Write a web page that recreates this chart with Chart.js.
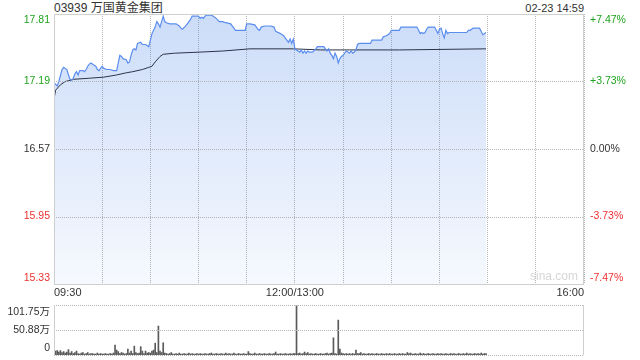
<!DOCTYPE html>
<html lang="zh">
  <head>
    <meta charset="utf-8" />
    <title>03939 万国黄金集团</title>
    <script src="https://cdn.jsdelivr.net/npm/chart.js@4/dist/chart.umd.min.js"></script>
    <style>
      body { margin: 0; background: #fff; width: 640px; height: 360px; position: relative; overflow: hidden; }
      canvas { position: absolute; left: 0; }
      #main { top: 0; }
      #vol { top: 300px; }
      .head { position: absolute; top: 1px; font: 12px Arial, "Liberation Sans", "Noto Sans CJK SC", sans-serif; color: #333; line-height: 15px; }
      #title { left: 54px; }
      #stamp { right: 56px; font-size: 11px; }
    </style>
  </head>
  <body>
    <div class="head" id="title">03939 万国黄金集团</div>
    <div class="head" id="stamp">02-23 14:59</div>
    <canvas id="main" width="640" height="300"></canvas>
    <canvas id="vol" width="640" height="60"></canvas>
    <script>
      // 分时价格 (分钟序号, 价格)
      const priceMinutes = [0, 2, 3, 5, 6, 8, 9, 10, 11, 12, 13, 14, 15, 16, 18, 19, 20, 21, 22, 23, 25, 26, 27, 28, 29, 30, 31, 33, 35, 37, 39, 40, 41, 42, 43, 45, 46, 47, 48, 49, 50, 51, 52, 54, 55, 57, 58, 59, 60, 61, 62, 63, 64, 65, 66, 67, 68, 69, 70, 72, 76, 78, 79, 80, 82, 83, 84, 85, 86, 90, 91, 92, 93, 94, 95, 98, 100, 101, 103, 105, 107, 110, 112, 113, 119, 120, 122, 125, 127, 128, 129, 131, 135, 137, 138, 141, 143, 145, 146, 147, 148, 149, 150, 151, 153, 154, 155, 156, 157, 158, 159, 161, 163, 164, 168, 169, 170, 171, 172, 173, 174, 175, 176, 177, 178, 179, 180, 181, 182, 183, 184, 185, 186, 187, 188, 189, 190, 197, 198, 204, 205, 207, 209, 210, 215, 216, 226, 227, 228, 229, 230, 231, 232, 233, 237, 238, 239, 240, 241, 242, 243, 244, 245, 246, 253, 255, 257, 258, 259, 260, 261, 265, 266, 267, 269];
      const prices = [17.18, 17.15, 17.19, 17.30, 17.32, 17.30, 17.25, 17.21, 17.20, 17.22, 17.26, 17.28, 17.25, 17.29, 17.29, 17.28, 17.30, 17.33, 17.35, 17.36, 17.34, 17.33, 17.30, 17.29, 17.31, 17.33, 17.31, 17.30, 17.30, 17.29, 17.29, 17.36, 17.43, 17.42, 17.40, 17.39, 17.36, 17.37, 17.43, 17.48, 17.49, 17.48, 17.54, 17.55, 17.53, 17.53, 17.52, 17.51, 17.57, 17.63, 17.66, 17.69, 17.74, 17.72, 17.69, 17.74, 17.79, 17.74, 17.73, 17.72, 17.72, 17.70, 17.68, 17.67, 17.70, 17.72, 17.74, 17.76, 17.79, 17.79, 17.77, 17.78, 17.77, 17.79, 17.80, 17.80, 17.78, 17.77, 17.74, 17.74, 17.73, 17.72, 17.68, 17.66, 17.66, 17.72, 17.72, 17.71, 17.67, 17.66, 17.69, 17.70, 17.70, 17.69, 17.65, 17.63, 17.61, 17.57, 17.55, 17.58, 17.54, 17.58, 17.49, 17.48, 17.46, 17.48, 17.45, 17.47, 17.45, 17.47, 17.46, 17.46, 17.49, 17.51, 17.51, 17.49, 17.47, 17.49, 17.45, 17.43, 17.40, 17.45, 17.42, 17.36, 17.40, 17.42, 17.43, 17.45, 17.47, 17.46, 17.45, 17.47, 17.45, 17.46, 17.48, 17.53, 17.54, 17.54, 17.57, 17.57, 17.60, 17.61, 17.63, 17.66, 17.66, 17.69, 17.69, 17.66, 17.63, 17.64, 17.63, 17.64, 17.67, 17.69, 17.69, 17.66, 17.63, 17.67, 17.68, 17.63, 17.59, 17.66, 17.63, 17.64, 17.64, 17.64, 17.64, 17.66, 17.66, 17.67, 17.68, 17.68, 17.65, 17.62, 17.64];

      // 均价线
      const avgMinutes = [0, 1, 4, 7, 10, 12, 22, 31, 39, 45, 49, 55, 59, 61, 63, 66, 68, 75, 91, 105, 122, 149, 166, 184, 215, 269];
      const avgPrices = [17.03, 17.11, 17.16, 17.19, 17.20, 17.21, 17.22, 17.23, 17.25, 17.27, 17.28, 17.30, 17.32, 17.33, 17.37, 17.42, 17.44, 17.45, 17.46, 17.47, 17.49, 17.49, 17.48, 17.48, 17.48, 17.49];

      // 每分钟成交量 (万股)
      const volumes = [
        12, 8, 9, 6, 9, 5, 7, 4, 6, 11, 4, 7, 3, 5, 8, 3, 2, 4, 5, 2, 3, 5, 2, 3, 3, 2, 2, 4, 2, 3,
        2, 2, 3, 2, 2, 3, 2, 4, 20, 10, 7, 3, 5, 4, 2, 3, 12, 4, 8, 3, 18, 5, 3, 4, 17, 8, 3, 8, 4, 5,
        4, 8, 10, 24, 5, 59, 8, 5, 25, 4, 3, 2, 3, 5, 2, 2, 3, 2, 4, 2, 2, 3, 2, 2, 4, 2, 3, 2, 2, 3,
        2, 3, 2, 2, 3, 2, 2, 3, 4, 2, 2, 3, 2, 2, 3, 2, 2, 4, 2, 3, 2, 2, 4, 2, 2, 3, 2, 2, 3, 2,
        2, 7, 3, 2, 2, 4, 2, 2, 3, 2, 2, 3, 2, 2, 3, 2, 2, 3, 6, 2, 2, 3, 2, 2, 3, 2, 2, 3, 2, 3,
        3, 101.75, 3, 4, 2, 3, 6, 3, 5, 2, 3, 2, 2, 3, 2, 2, 3, 2, 2, 3, 4, 2, 3, 4, 35, 3, 2, 71, 12, 4,
        3, 2, 3, 2, 3, 2, 3, 2, 10, 3, 3, 5, 2, 3, 2, 2, 3, 2, 3, 2, 2, 3, 2, 2, 3, 2, 2, 3, 2, 3,
        2, 2, 3, 2, 2, 3, 2, 3, 2, 2, 5, 3, 4, 2, 2, 3, 2, 2, 4, 2, 3, 2, 2, 3, 2, 2, 3, 2, 2, 3,
        2, 3, 2, 2, 3, 2, 2, 3, 2, 3, 2, 2, 3, 2, 2, 3, 2, 4, 2, 3, 2, 2, 3, 2, 3, 2, 4, 2, 3, 3
      ];

      // 坐标轴刻度
      const priceTicks = [17.81, 17.19, 16.57, 15.95, 15.33];
      const pctTicks = ["+7.47%", "+3.73%", "0.00%", "-3.73%", "-7.47%"];
      const tickColors = ["#1ea31e", "#1ea31e", "#333333", "#f03030", "#f03030"];
      const timeTicks = [0, 150, 330];
      const timeLabels = ["09:30", "12:00/13:00", "16:00"];
      const volTicks = [101.75, 50.875, 0];
      const volLabels = ["101.75万", "50.88万", "0"];

      const FONT = 'Arial, "Liberation Sans", "Noto Sans CJK SC", sans-serif';
      const GRID = "#b4b4b4";

      // 横向点线网格 (按 y 轴刻度)
      function hGrid(chart, values) {
        const ctx = chart.ctx;
        const a = chart.chartArea;
        const y = chart.scales.y;
        ctx.save();
        ctx.strokeStyle = GRID;
        ctx.lineWidth = 1;
        ctx.setLineDash([1, 1]);
        values.forEach((v) => {
          const py = Math.round(y.getPixelForValue(v)) + 0.5;
          ctx.beginPath();
          ctx.moveTo(a.left, py);
          ctx.lineTo(a.right, py);
          ctx.stroke();
        });
        ctx.restore();
      }

      const mainLabels = {
        id: "mainLabels",
        afterDatasetsDraw(chart) {
          hGrid(chart, priceTicks.slice(1, -1));
        },
        afterDraw(chart) {
          const ctx = chart.ctx;
          const a = chart.chartArea;
          const y = chart.scales.y;
          const x = chart.scales.x;
          ctx.save();
          // 外框
          ctx.strokeStyle = "#cfcfcf";
          ctx.lineWidth = 1;
          ctx.strokeRect(a.left + 0.5, a.top + 0.5, a.right - a.left - 1, a.bottom - a.top);
          ctx.font = "10.5px " + FONT;
          ctx.textBaseline = "middle";
          priceTicks.forEach((v, i) => {
            let py = y.getPixelForValue(v);
            py = Math.min(Math.max(py, a.top + 6), a.bottom - 6);
            ctx.fillStyle = tickColors[i];
            ctx.textAlign = "right";
            ctx.fillText(v.toFixed(2), a.left - 4, py);
            ctx.textAlign = "left";
            ctx.fillText(pctTicks[i], a.right + 6, py);
          });
          ctx.font = "11px " + FONT;
          ctx.fillStyle = "#333";
          const aligns = ["left", "center", "right"];
          timeTicks.forEach((m, i) => {
            ctx.textAlign = aligns[i];
            ctx.fillText(timeLabels[i], x.getPixelForValue(m), a.bottom + 9);
          });
          ctx.font = "12px " + FONT;
          ctx.fillStyle = "#d6d6d6";
          ctx.textAlign = "right";
          ctx.fillText("sina.com", a.right - 6, a.bottom - 7);
          ctx.restore();
        },
      };

      new Chart(document.getElementById("main"), {
        type: "line",
        data: {
          datasets: [
            {
              label: "价格",
              data: priceMinutes.map((m, i) => ({ x: m, y: prices[i] })),
              borderColor: "#5b8def",
              borderWidth: 1.2,
              pointRadius: 0,
              fill: "start",
              backgroundColor: (c) => {
                const a = c.chart.chartArea;
                if (!a) return "rgba(100,150,235,0.25)";
                const g = c.chart.ctx.createLinearGradient(0, a.top, 0, a.bottom);
                g.addColorStop(0, "rgba(100,150,235,0.33)");
                g.addColorStop(1, "rgba(100,150,235,0.06)");
                return g;
              },
            },
            {
              label: "均价",
              data: avgMinutes.map((m, i) => ({ x: m, y: avgPrices[i] })),
              borderColor: "#2c3347",
              borderWidth: 1,
              pointRadius: 0,
              fill: false,
            },
          ],
        },
        options: {
          responsive: false,
          animation: false,
          layout: { padding: { left: 54, right: 56, top: 14, bottom: 16 } },
          plugins: {
            legend: { display: false },
            tooltip: { enabled: false },
            filler: { drawTime: "beforeDatasetsDraw" },
          },
          scales: {
            x: {
              type: "linear",
              min: 0,
              max: 330,
              afterFit: (s) => { s.height = 0; },
              ticks: { display: false, stepSize: 30 },
              grid: { color: GRID, drawTicks: false },
              border: { display: false, dash: [1, 1] },
            },
            y: {
              min: 15.33,
              max: 17.81,
              afterFit: (s) => { s.width = 0; },
              ticks: { display: false, count: priceTicks.length },
              grid: { display: false },
              border: { display: false },
            },
          },
        },
        plugins: [mainLabels],
      });

      const volLabelsPlugin = {
        id: "volLabels",
        afterDatasetsDraw(chart) {
          hGrid(chart, volTicks);
        },
        afterDraw(chart) {
          const ctx = chart.ctx;
          const a = chart.chartArea;
          const y = chart.scales.y;
          ctx.save();
          ctx.strokeStyle = "#cfcfcf";
          ctx.beginPath();
          ctx.moveTo(a.right - 0.5, a.top);
          ctx.lineTo(a.right - 0.5, a.bottom);
          ctx.moveTo(a.left + 0.5, a.top);
          ctx.lineTo(a.left + 0.5, a.bottom);
          ctx.stroke();
          ctx.font = "10.5px " + FONT;
          ctx.fillStyle = "#333";
          ctx.textAlign = "right";
          ctx.textBaseline = "middle";
          volTicks.forEach((v, i) => {
            let py = y.getPixelForValue(v);
            py = Math.min(Math.max(py, a.top + 7), a.bottom - 7);
            ctx.fillText(volLabels[i], a.left - 4, py);
          });
          ctx.restore();
        },
      };

      new Chart(document.getElementById("vol"), {
        type: "bar",
        data: {
          datasets: [
            {
              label: "成交量",
              data: volumes.map((v, i) => ({ x: i, y: v })),
              backgroundColor: "#5a5a5a",
              barThickness: 1,
            },
          ],
        },
        options: {
          responsive: false,
          animation: false,
          layout: { padding: { left: 54, right: 56, top: 5, bottom: 5 } },
          plugins: { legend: { display: false }, tooltip: { enabled: false } },
          scales: {
            x: {
              type: "linear",
              min: 0,
              max: 330,
              offset: false,
              afterFit: (s) => { s.height = 0; },
              ticks: { display: false },
              grid: { display: false },
              border: { display: false },
            },
            y: {
              min: 0,
              max: 101.75,
              afterFit: (s) => { s.width = 0; },
              ticks: { display: false },
              grid: { display: false },
              border: { display: false },
            },
          },
        },
        plugins: [volLabelsPlugin],
      });
    </script>
  </body>
</html>
